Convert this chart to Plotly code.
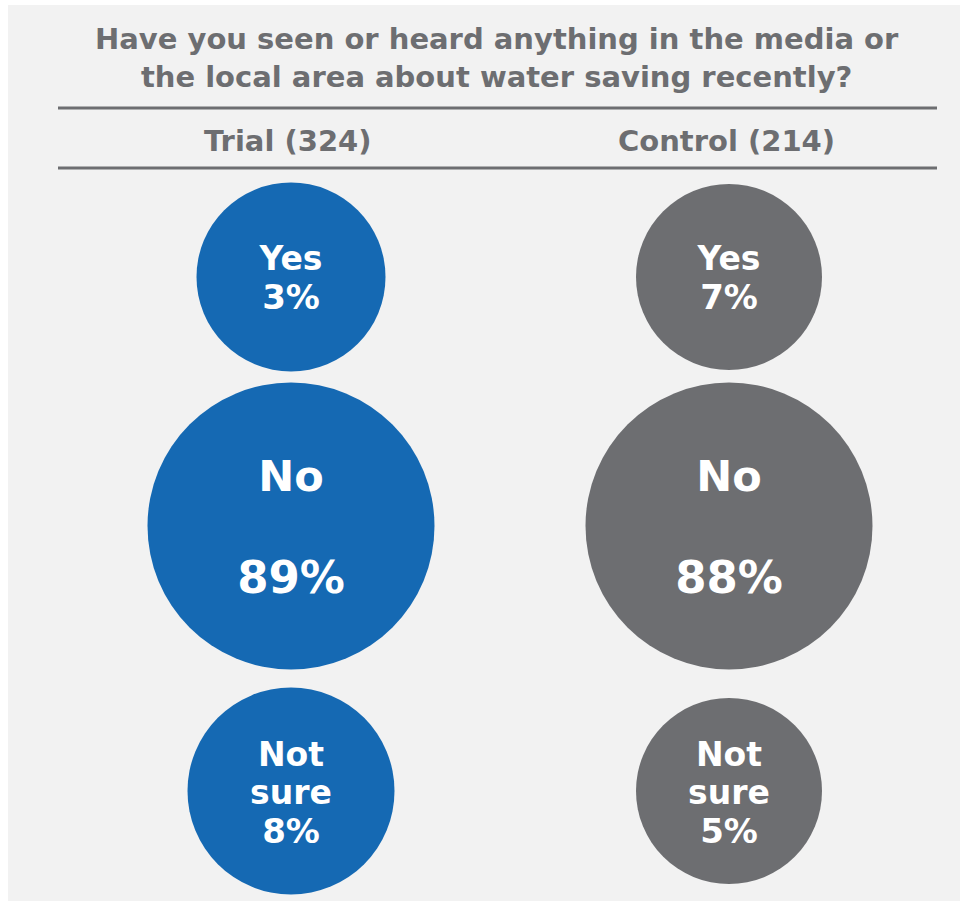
import plotly.graph_objects as go

# data
groups = ["Trial", "Control"]
group_n = [324, 214]
answers = ["Yes", "No", "Not sure"]
answer_lines = [["Yes"], ["No"], ["Not", "sure"]]
trial_pct = [3, 89, 8]
control_pct = [7, 88, 5]

title_text = ("Have you seen or heard anything in the media or<br>"
              "the local area about water saving recently?")

# layout (reference pixel space)
W, H = 960, 901
COL_X = {"Trial": 291, "Control": 729}
ROW_Y = {"Yes": 277, "No": 526, "Not sure": 791}
SIZES = {"Trial": [189, 287, 207], "Control": [186, 287, 186]}
# vertical offsets of the text lines inside each circle (label lines, then percent)
LINE_DY = {"Yes": [-15, 23], "No": [-46, 56], "Not sure": [-33, 5, 43]}
LABEL_SIZE = {"Yes": 33, "No": 43, "Not sure": 33}
PCT_SIZE = {"Yes": 34, "No": 45, "Not sure": 34}
COLORS = {"Trial": "#1569b3", "Control": "#6d6e71"}
GREY = "#6d6e71"
FONT = "DejaVu Sans"

fig = go.Figure()

for g, n, pcts in zip(groups, group_n, [trial_pct, control_pct]):
    fig.add_trace(go.Scatter(
        x=[COL_X[g]] * len(answers),
        y=[ROW_Y[a] for a in answers],
        mode="markers",
        marker=dict(size=SIZES[g], color=COLORS[g], line=dict(width=0), opacity=1),
        hoverinfo="skip",
        showlegend=False,
    ))
    # text lines inside the circles
    tx, ty, tt, ts = [], [], [], []
    for a, lines, p in zip(answers, answer_lines, pcts):
        parts = lines + [f"{p}%"]
        sizes = [LABEL_SIZE[a]] * len(lines) + [PCT_SIZE[a]]
        for part, dy, sz in zip(parts, LINE_DY[a], sizes):
            tx.append(COL_X[g])
            ty.append(ROW_Y[a] + dy)
            tt.append(part)
            ts.append(sz)
    fig.add_trace(go.Scatter(
        x=tx, y=ty, text=tt, mode="text",
        textposition="middle center",
        textfont=dict(family=FONT, size=ts, color="white", weight="bold"),
        hoverinfo="skip",
        showlegend=False,
    ))
    fig.add_annotation(
        x=COL_X[g] - 3, y=141, text=f"{g} ({n})", showarrow=False,
        font=dict(family=FONT, size=29, color=GREY, weight="bold"),
        xanchor="center", yanchor="middle",
    )

fig.add_annotation(
    x=497, y=58, text=title_text, showarrow=False,
    font=dict(family=FONT, size=29, color=GREY, weight="bold"),
    xanchor="center", yanchor="middle", align="center",
)

shapes = [
    dict(type="rect", x0=8, x1=W, y0=5, y1=H, fillcolor="#f2f2f2",
         line=dict(width=0), layer="below"),
    dict(type="line", x0=58, x1=937, y0=108, y1=108, line=dict(color=GREY, width=3)),
    dict(type="line", x0=58, x1=937, y0=168, y1=168, line=dict(color=GREY, width=3)),
]

fig.update_layout(
    width=W, height=H,
    margin=dict(l=0, r=0, t=0, b=0),
    paper_bgcolor="white",
    plot_bgcolor="rgba(0,0,0,0)",
    shapes=shapes,
    xaxis=dict(range=[0, W], visible=False, fixedrange=True),
    yaxis=dict(range=[H, 0], visible=False, fixedrange=True),
)

# drop the default page margin so the figure fills the window exactly
fig.write_html("out.html",
               config={"displayModeBar": False},
               post_script="document.body.style.margin='0';document.body.style.overflow='hidden';")
